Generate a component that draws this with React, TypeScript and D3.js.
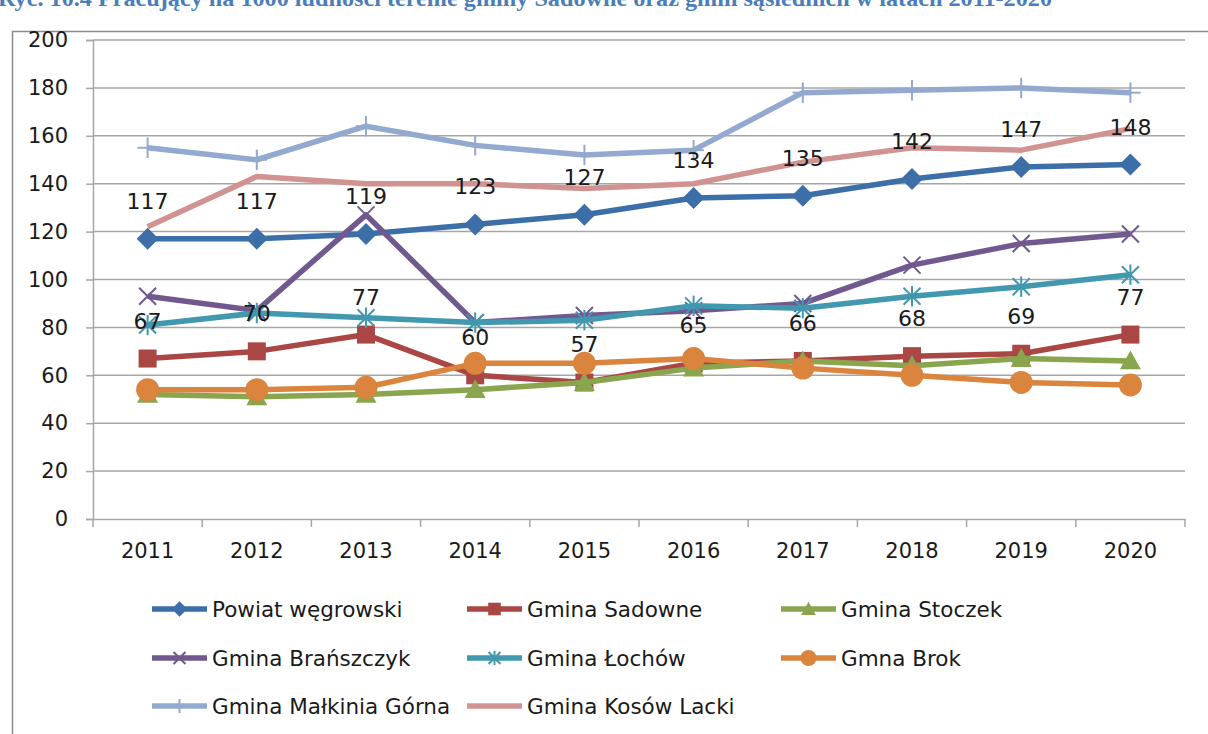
import * as d3 from 'd3';
import React, { useRef, useEffect } from 'react';

const W = 1208;
const H = 734;

const years = ['2011', '2012', '2013', '2014', '2015', '2016', '2017', '2018', '2019', '2020'];
const yTicks = [0, 20, 40, 60, 80, 100, 120, 140, 160, 180, 200];

const powiat = [117, 117, 119, 123, 127, 134, 135, 142, 147, 148];
const sadowne = [67, 70, 77, 60, 57, 65, 66, 68, 69, 77];
const stoczek = [52, 51, 52, 54, 57, 63, 66, 64, 67, 66];
const branszczyk = [93, 87, 127, 82, 85, 87, 90, 106, 115, 119];
const lochow = [81, 86, 84, 82, 83, 89, 88, 93, 97, 102];
const brok = [54, 54, 55, 65, 65, 67, 63, 60, 57, 56];
const malkinia = [155, 150, 164, 156, 152, 154, 178, 179, 180, 178];
const kosow = [122, 143, 140, 140, 138, 140, 149, 155, 154, 163];

const title = 'Ryc. 10.4 Pracujący na 1000 ludności terenie gminy Sadowne oraz gmin sąsiednich w latach 2011-2020';

const series = [
  { name: 'Powiat węgrowski', values: powiat, color: '#3c6ea8', marker: 'diamond', labels: true },
  { name: 'Gmina Sadowne', values: sadowne, color: '#aa4643', marker: 'square', labels: true },
  { name: 'Gmina Stoczek', values: stoczek, color: '#89a54e', marker: 'triangle' },
  { name: 'Gmina Brańszczyk', values: branszczyk, color: '#71588f', marker: 'x' },
  { name: 'Gmina Łochów', values: lochow, color: '#4198af', marker: 'star' },
  { name: 'Gmna Brok', values: brok, color: '#db843d', marker: 'circle' },
  { name: 'Gmina Małkinia Górna', values: malkinia, color: '#93a9cf', marker: 'plus' },
  { name: 'Gmina Kosów Lacki', values: kosow, color: '#d19392', marker: 'none' },
];

const font = 'DejaVu Sans, sans-serif';
const gridColor = '#a6a6a6';

// draw one marker centred on (0,0) of g, k scales it for the legend
function marker(g, type, color, k) {
  if (type === 'diamond') {
    const s = 11 * k;
    g.append('path').attr('d', `M0,${-s}L${s},0L0,${s}L${-s},0Z`).attr('fill', color);
  } else if (type === 'square') {
    const s = 9 * k;
    g.append('rect').attr('x', -s).attr('y', -s).attr('width', 2 * s).attr('height', 2 * s).attr('fill', color);
  } else if (type === 'triangle') {
    const s = 10.5 * k;
    g.append('path').attr('d', `M0,${-s}L${s},${s * 0.8}L${-s},${s * 0.8}Z`).attr('fill', color);
  } else if (type === 'circle') {
    g.append('circle').attr('r', 11.5 * k).attr('fill', color);
  } else if (type === 'x' || type === 'star' || type === 'plus') {
    const s = 8.5 * k;
    const segs = [];
    if (type !== 'plus') segs.push([-s, -s, s, s], [-s, s, s, -s]);
    if (type !== 'x') segs.push([0, -s * 1.2, 0, s * 1.2]);
    if (type === 'plus') segs.push([-s * 1.2, 0, s * 1.2, 0]);
    segs.forEach(([x1, y1, x2, y2]) => {
      g.append('line').attr('x1', x1).attr('y1', y1).attr('x2', x2).attr('y2', y2)
        .attr('stroke', color).attr('stroke-width', 2);
    });
  }
}

function App() {
  const ref = useRef(null);

  useEffect(() => {
    const svg = d3.select(ref.current);
    svg.selectAll('*').remove();

    const x = d3.scaleBand().domain(years).range([93, 1185]);
    const y = d3.scaleLinear().domain([0, 200]).range([519, 40]);
    const cx = (d) => x(d) + x.bandwidth() / 2;

    svg.append('rect').attr('width', W).attr('height', H).attr('fill', '#fff');

    // title, cut off at the top of the page
    svg.append('text')
      .attr('x', -2)
      .attr('y', 6)
      .attr('textLength', 1054)
      .attr('lengthAdjust', 'spacingAndGlyphs')
      .attr('font-family', 'Liberation Serif, serif')
      .attr('font-weight', 'bold')
      .attr('font-size', 23)
      .attr('fill', '#4a7ebb')
      .text(title);

    // chart frame
    svg.append('path')
      .attr('d', `M12.5,${H}V31.5H${W}`)
      .attr('fill', 'none')
      .attr('stroke', '#8c8c8c')
      .attr('stroke-width', 1.5);

    // gridlines
    svg.append('g')
      .selectAll('line')
      .data(yTicks.filter((v) => v > 0))
      .join('line')
      .attr('x1', 93)
      .attr('x2', 1185)
      .attr('y1', (d) => y(d))
      .attr('y2', (d) => y(d))
      .attr('stroke', gridColor)
      .attr('stroke-width', 1.5);

    // Y axis
    const yAxis = svg.append('g')
      .attr('transform', 'translate(93,0)')
      .call(d3.axisLeft(y).tickValues(yTicks).tickSize(7).tickPadding(18));
    yAxis.selectAll('line, path').attr('stroke', gridColor).attr('stroke-width', 1.5);
    yAxis.selectAll('text').attr('font-family', font).attr('font-size', 21).attr('fill', '#1a1a1a');

    // X axis
    const xAxis = svg.append('g')
      .attr('transform', 'translate(0,519)')
      .call(d3.axisBottom(x).tickSize(0).tickPadding(24));
    xAxis.select('.domain').attr('stroke', gridColor).attr('stroke-width', 1.5);
    xAxis.selectAll('text').attr('font-family', font).attr('font-size', 21).attr('fill', '#1a1a1a');
    svg.append('g')
      .selectAll('line')
      .data(years.concat(['end']))
      .join('line')
      .attr('x1', (d, i) => (i < years.length ? x(d) : 1185))
      .attr('x2', (d, i) => (i < years.length ? x(d) : 1185))
      .attr('y1', 519)
      .attr('y2', 527)
      .attr('stroke', gridColor)
      .attr('stroke-width', 1.5);

    const line = d3.line().x((d, i) => cx(years[i])).y((d) => y(d));

    series.forEach((s) => {
      const g = svg.append('g');
      g.append('path')
        .attr('d', line(s.values))
        .attr('fill', 'none')
        .attr('stroke', s.color)
        .attr('stroke-width', 5.5)
        .attr('stroke-linejoin', 'round');
      s.values.forEach((v, i) => {
        const m = g.append('g').attr('transform', `translate(${cx(years[i])},${y(v)})`);
        marker(m, s.marker, s.color, 1);
      });
    });

    // data labels
    series.filter((s) => s.labels).forEach((s) => {
      svg.append('g')
        .selectAll('text')
        .data(s.values)
        .join('text')
        .attr('x', (d, i) => cx(years[i]))
        .attr('y', (d) => y(d) - 30)
        .attr('text-anchor', 'middle')
        .attr('font-family', font)
        .attr('font-size', 22)
        .attr('fill', '#1a1a1a')
        .text((d) => d);
    });

    // legend
    const cols = [152, 467, 781];
    const rows = [609, 658, 706];
    series.forEach((s, i) => {
      const lx = cols[i % 3];
      const ly = rows[Math.floor(i / 3)];
      const g = svg.append('g').attr('transform', `translate(${lx},${ly})`);
      g.append('line').attr('x1', 0).attr('x2', 55).attr('stroke', s.color).attr('stroke-width', 5.5);
      const m = g.append('g').attr('transform', 'translate(27.5,0)');
      marker(m, s.marker, s.color, 0.7);
      g.append('text')
        .attr('x', 60)
        .attr('dy', '0.36em')
        .attr('font-family', font)
        .attr('font-size', 21.5)
        .attr('fill', '#1a1a1a')
        .text(s.name);
    });
  }, []);

  return (
    <svg
      ref={ref}
      width={W}
      height={H}
      style={{ position: 'absolute', left: 0, top: 0 }}
    ></svg>
  );
}

export default App;
